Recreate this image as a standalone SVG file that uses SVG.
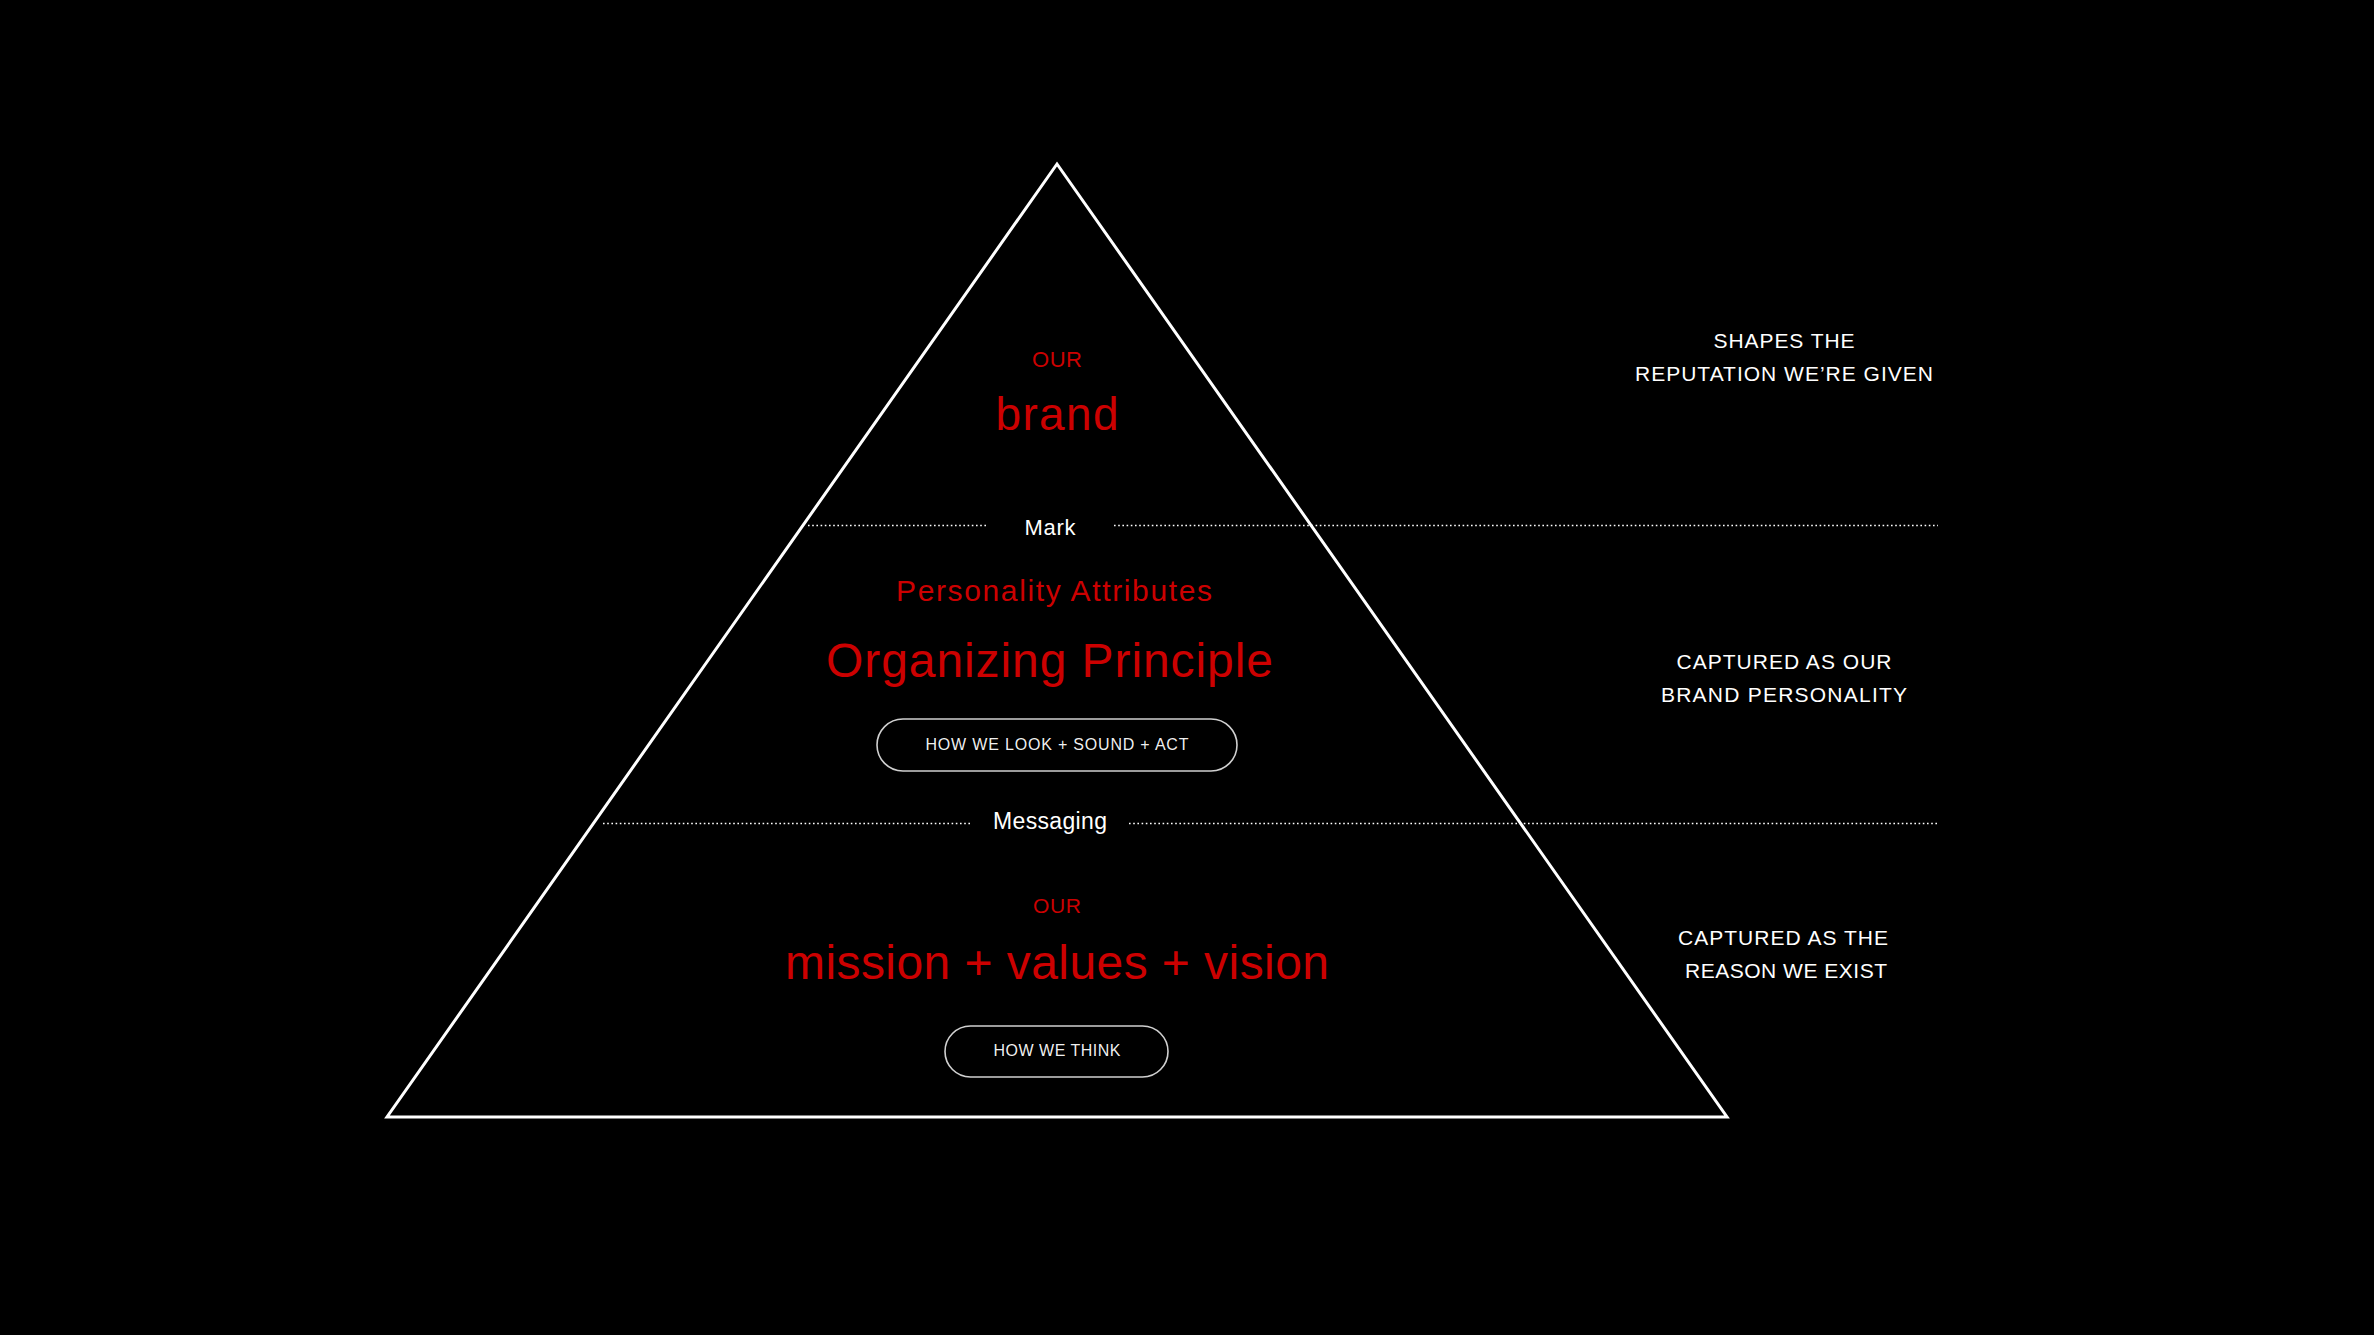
<svg xmlns="http://www.w3.org/2000/svg" width="2374" height="1335" viewBox="0 0 2374 1335">
<style>
text{font-family:"Liberation Sans",Arial,sans-serif;text-anchor:middle}
.red{fill:#cc0000}
.wht{fill:#ffffff}
.side{fill:#ffffff;font-size:21px}
.dot{stroke:#ffffff;stroke-width:1.6;stroke-dasharray:1.6 2.6;fill:none}
.pill{fill:none;stroke:#d0d0d0;stroke-width:1.6}
</style>
<rect x="0" y="0" width="2374" height="1335" fill="#000"/>
<g id="pyramid">
<polygon points="1057,164 1727,1117 387,1117" fill="none" stroke="#fff" stroke-width="3" stroke-linejoin="miter"/>
</g>
<g id="connectors">
<line class="dot" x1="808" y1="525.5" x2="987" y2="525.5"/>
<line class="dot" x1="1114" y1="525.5" x2="1938" y2="525.5"/>
<line class="dot" x1="603" y1="823.5" x2="970" y2="823.5"/>
<line class="dot" x1="1129" y1="823.5" x2="1938" y2="823.5"/>
</g>
<g id="brand">
<text class="red" x="1057" y="367" font-size="22" textLength="50">OUR</text>
<text class="red" x="1057" y="430" font-size="46" textLength="123">brand</text>
</g>
<g id="mark">
<text class="wht" x="1050" y="535" font-size="22" textLength="51">Mark</text>
</g>
<g id="personality">
<text class="red" x="1054" y="601" font-size="30" textLength="316">Personality Attributes</text>
<text class="red" x="1049.5" y="677" font-size="48" textLength="447">Organizing Principle</text>
<rect class="pill" x="877" y="719" width="360" height="52" rx="26"/>
<text class="wht" x="1057" y="750" font-size="16" fill-opacity="0.95" textLength="263">HOW WE LOOK + SOUND + ACT</text>
</g>
<g id="messaging">
<text class="wht" x="1050" y="829" font-size="23" textLength="114">Messaging</text>
</g>
<g id="mission">
<text class="red" x="1057" y="913" font-size="21" textLength="48">OUR</text>
<text class="red" x="1057" y="979" font-size="48" textLength="544">mission + values + vision</text>
<rect class="pill" x="945" y="1026" width="223" height="51" rx="25.5"/>
<text class="wht" x="1057" y="1056" font-size="16" fill-opacity="0.95" textLength="127">HOW WE THINK</text>
</g>
<g id="label-reputation">
<text class="side" x="1784" y="348" textLength="141">SHAPES THE</text>
<text class="side" x="1784" y="381" textLength="298">REPUTATION WE’RE GIVEN</text>
</g>
<g id="label-personality">
<text class="side" x="1784" y="669" textLength="215">CAPTURED AS OUR</text>
<text class="side" x="1784" y="702" textLength="246">BRAND PERSONALITY</text>
</g>
<g id="label-reason">
<text class="side" x="1783" y="945" textLength="210">CAPTURED AS THE</text>
<text class="side" x="1786" y="978" textLength="202">REASON WE EXIST</text>
</g>
</svg>
